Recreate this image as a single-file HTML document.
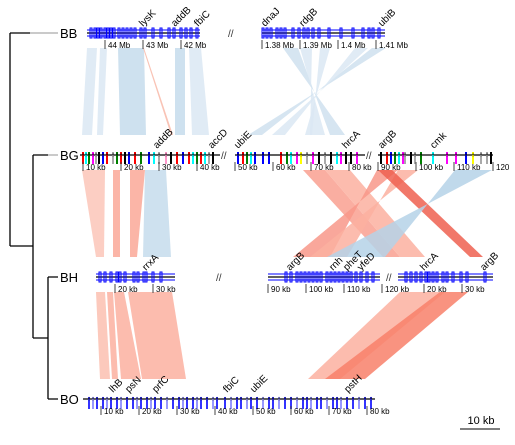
<!DOCTYPE html>
<html><head><meta charset="utf-8"><style>
body{margin:0;background:#fff;}
svg text{font-family:"Liberation Sans",sans-serif;}
</style></head><body>
<svg id="c" width="515" height="440" xmlns="http://www.w3.org/2000/svg">
<g id="links"></g>
<g id="tree" stroke-width="1.3" fill="none">
<path d="M10 33V246M10 33H30M33 155V338M10 246H33M33 155H48M48 277V399M33 338H48M48 277H58M48 399H58" stroke="#000"/>
<path d="M30 33H58M48 155H58" stroke="#aaa"/>
</g>
<g id="tracks"></g>
<g>
<line x1="460" y1="429" x2="500" y2="429" stroke="#000"/>
<text x="481" y="424" font-size="11" text-anchor="middle">10 kb</text>
</g>
</svg>
<script>
const NS="http://www.w3.org/2000/svg";
const genomes=["BB","BG","BH","BO"];
const trackY=[33,155,277,399];
const segBB=[[87,200],[262,385]];
const segBG=[[80,220],[235,365],[378,493]];
const segBH=[[96,175],[268,380],[398,493]];
const segBO=[[83,375]];
const segs=[segBB,segBG,segBH,segBO];
const breaks=[[232],[225,370],[220,390],[]];
const tickBB=[[105,"44 Mb"],[143,"43 Mb"],[181,"42 Mb"],[262,"1.38 Mb"],[300,"1.39 Mb"],[338,"1.4 Mb"],[376,"1.41 Mb"]];
const tickBG=[[83,"10 kb"],[121,"20 kb"],[159,"30 kb"],[197,"40 kb"],[235,"50 kb"],[273,"60 kb"],[311,"70 kb"],[349,"80 kb"],[378,"90 kb"],[416,"100 kb"],[454,"110 kb"],[493,"120"]];
const tickBH=[[115,"20 kb"],[153,"30 kb"],[268,"90 kb"],[306,"100 kb"],[344,"110 kb"],[382,"120 kb"],[424,"20 kb"],[462,"30 kb"]];
const tickBO=[[101,"10 kb"],[139,"20 kb"],[177,"30 kb"],[215,"40 kb"],[253,"50 kb"],[291,"60 kb"],[329,"70 kb"],[367,"80 kb"]];
const ticks=[tickBB,tickBG,tickBH,tickBO];
const genesBB=[90,94,97,100,104,107,110,113,118,122,126,130,134,140,144,152,160,168,173,180,185,190,196,262,266,270,276,280,284,292,298,303,307,312,318,328,340,352,362,368,372,378];
const genesBG=[82,85,88,92,95,98,102,106,112,116,120,124,128,134,140,148,153,158,165,170,176,182,188,192,196,200,204,208,212,237,242,246,250,254,262,268,280,286,290,296,300,306,312,318,324,330,336,340,345,350,356,380,386,390,394,398,402,404,410,414,420,432,446,455,465,472,480,486,490];
const colorsBG=["red","cyan","green","magenta","#aaa","black","blue","red","#aaa","green","red","black","blue","red","green","blue","cyan","#aaa","#f9c","black","red","blue","red","cyan","green","red","cyan","#aaa","black","blue","red","green","cyan","blue","blue","blue","red","green","cyan","magenta","yellow","#aaa","magenta","black","#aaa","black","cyan","magenta","black","black","magenta","black","red","blue","green","cyan","magenta","#aaa","black","#aaa","green","cyan","magenta","magenta","blue","yellow","#aaa","#aaa","black"];
const genesBH=[99,104,110,116,119,124,133,137,143,145,152,160,285,290,296,300,304,308,312,316,320,326,330,334,338,342,346,350,355,360,366,372,405,410,415,420,425,428,432,436,442,446,452,460,466,484];
const genesBO=[88,92,96,102,106,110,116,120,126,132,136,140,146,150,154,160,166,172,178,182,186,192,196,200,206,212,216,224,230,236,240,246,250,256,262,268,272,278,284,290,296,302,306,310,316,320,326,332,336,340,346,352,358,364,370];
const genes=[genesBB,genesBG,genesBH,genesBO];
const labelsBB=[[143,"lysK"],[175,"addB"],[198,"fbiC"],[265,"dnaJ"],[303,"rdgB"],[382,"ubiB"]];
const labelsBG=[[157,"addB"],[212,"accD"],[238,"ubiE"],[346,"hrcA"],[382,"argB"],[434,"cmk"]];
const labelsBH=[[146,"rrxA"],[290,"argB"],[333,"rnh"],[347,"pheT"],[361,"yfeD"],[424,"hrcA"],[484,"argB"]];
const labelsBO=[[113,"lhB"],[129,"psN"],[156,"prfC"],[227,"fbiC"],[254,"ubiE"],[348,"pstH"]];
const labels=[labelsBB,labelsBG,labelsBH,labelsBO];
const linkBands=[
[0,87,97,82,92,"#dbe8f3"],[0,100,107,97,103,"#dbe8f3"],[0,118,144,120,146,"#c6dcec"],[0,175,185,175,185,"#c6dcec"],[0,189,201,192,209,"#dbe8f3"],
[0,143,144,171,173,"#f8b8a8"],
[0,283,298,345,330,"#cfe1ef"],[0,300,312,325,310,"#dbe8f3"],[0,320,330,312,305,"#dbe8f3"],[0,372,386,262,248,"#cfe1ef"],[0,355,368,285,272,"#dbe8f3"],
[1,82,105,96,104,"#fcc5b8"],[1,113,120,113,120,"#faa898"],[1,130,145,130,137,"#faa898"],[1,145,166,143,171,"#c6dcec"],
[1,303,325,383,400,"#f9a090"],[1,325,350,400,425,"#fbb0a0"],[1,377,398,330,293,"#f8988a"],[1,398,418,347,310,"#fbb0a0"],
[1,378,392,470,483,"#ee6050"],[1,455,492,385,327,"#b5d2e8"],
[2,96,105,100,110,"#fbc0b0"],[2,107,113,112,118,"#fbb0a0"],[2,114,124,121,141,"#fbb0a0"],[2,128,172,142,186,"#fbb0a0"],
[2,400,445,308,340,"#fbb0a0"],[2,440,468,325,365,"#f8806a"]
];
function el(tag,attrs,parent){const e=document.createElementNS(NS,tag);for(const k in attrs)e.setAttribute(k,attrs[k]);parent.appendChild(e);return e;}
const L=document.getElementById('links');
linkBands.forEach((b,i)=>{
 const y1=trackY[b[0]]+15, y2=trackY[b[0]+1]-20;
 const p=el('polygon',{points:`${b[1]},${y1} ${b[2]},${y1} ${b[4]},${y2} ${b[3]},${y2}`,fill:b[5],'fill-opacity':0.85},L);
 
 
});
const T=document.getElementById('tracks');
genomes.forEach((g,gi)=>{
 const y=trackY[gi];
 const grp=el('g',{},T);
 
 
 const t=el('text',{x:60,y:y+5,'font-size':13},grp);t.textContent=g;
 
 
 segs[gi].forEach(s=>{
  const ln=el('line',{x1:s[0],y1:y,x2:s[1],y2:y,stroke:'#000','stroke-width':1.2},grp);
  
  
 });
 breaks[gi].forEach(x=>{
  const b=el('text',{x:x-4,y:y+4,'font-size':10,fill:'#333'},grp);b.textContent='//';
  
  
 });
 genes[gi].forEach((x,k)=>{
  let e;
  if(gi==0||gi==2){e=el('rect',{x:x,y:y-5,width:2,height:10,fill:'none',stroke:'#00f','stroke-width':1},grp);}
  else if(gi==1){e=el('rect',{x:x,y:y-3,width:2,height:12,fill:colorsBG[k%colorsBG.length]},grp);el('text',{x:x-1,y:y+2,'font-size':7},grp).textContent='+';}
  else {e=el('rect',{x:x,y:y-2,width:2,height:12,fill:k%3==1?'#99f':'#33f'},grp);el('text',{x:x-1,y:y+2,'font-size':7},grp).textContent='+';}
  
  
 });
 if(gi!=1&&gi!=3){segs[gi].forEach(s=>{el('line',{x1:s[0],y1:y-3,x2:s[1],y2:y-3,stroke:'#00f','stroke-width':1},grp);el('line',{x1:s[0],y1:y+3,x2:s[1],y2:y+3,stroke:'#00f','stroke-width':1},grp);});}
 ticks[gi].forEach(tk=>{
  el('line',{x1:tk[0],y1:y+7,x2:tk[0],y2:y+16,stroke:'#444'},grp);
  const tt=el('text',{x:tk[0]+3,y:y+15,'font-size':8},grp);tt.textContent=tk[1];
  
  
 });
 labels[gi].forEach(lb=>{
  const tx=el('text',{x:lb[0],y:y-6,'font-size':10,transform:`rotate(-45 ${lb[0]} ${y-6})`},grp);tx.textContent=lb[1];
  
  
 });
});
</script>
</body></html>
